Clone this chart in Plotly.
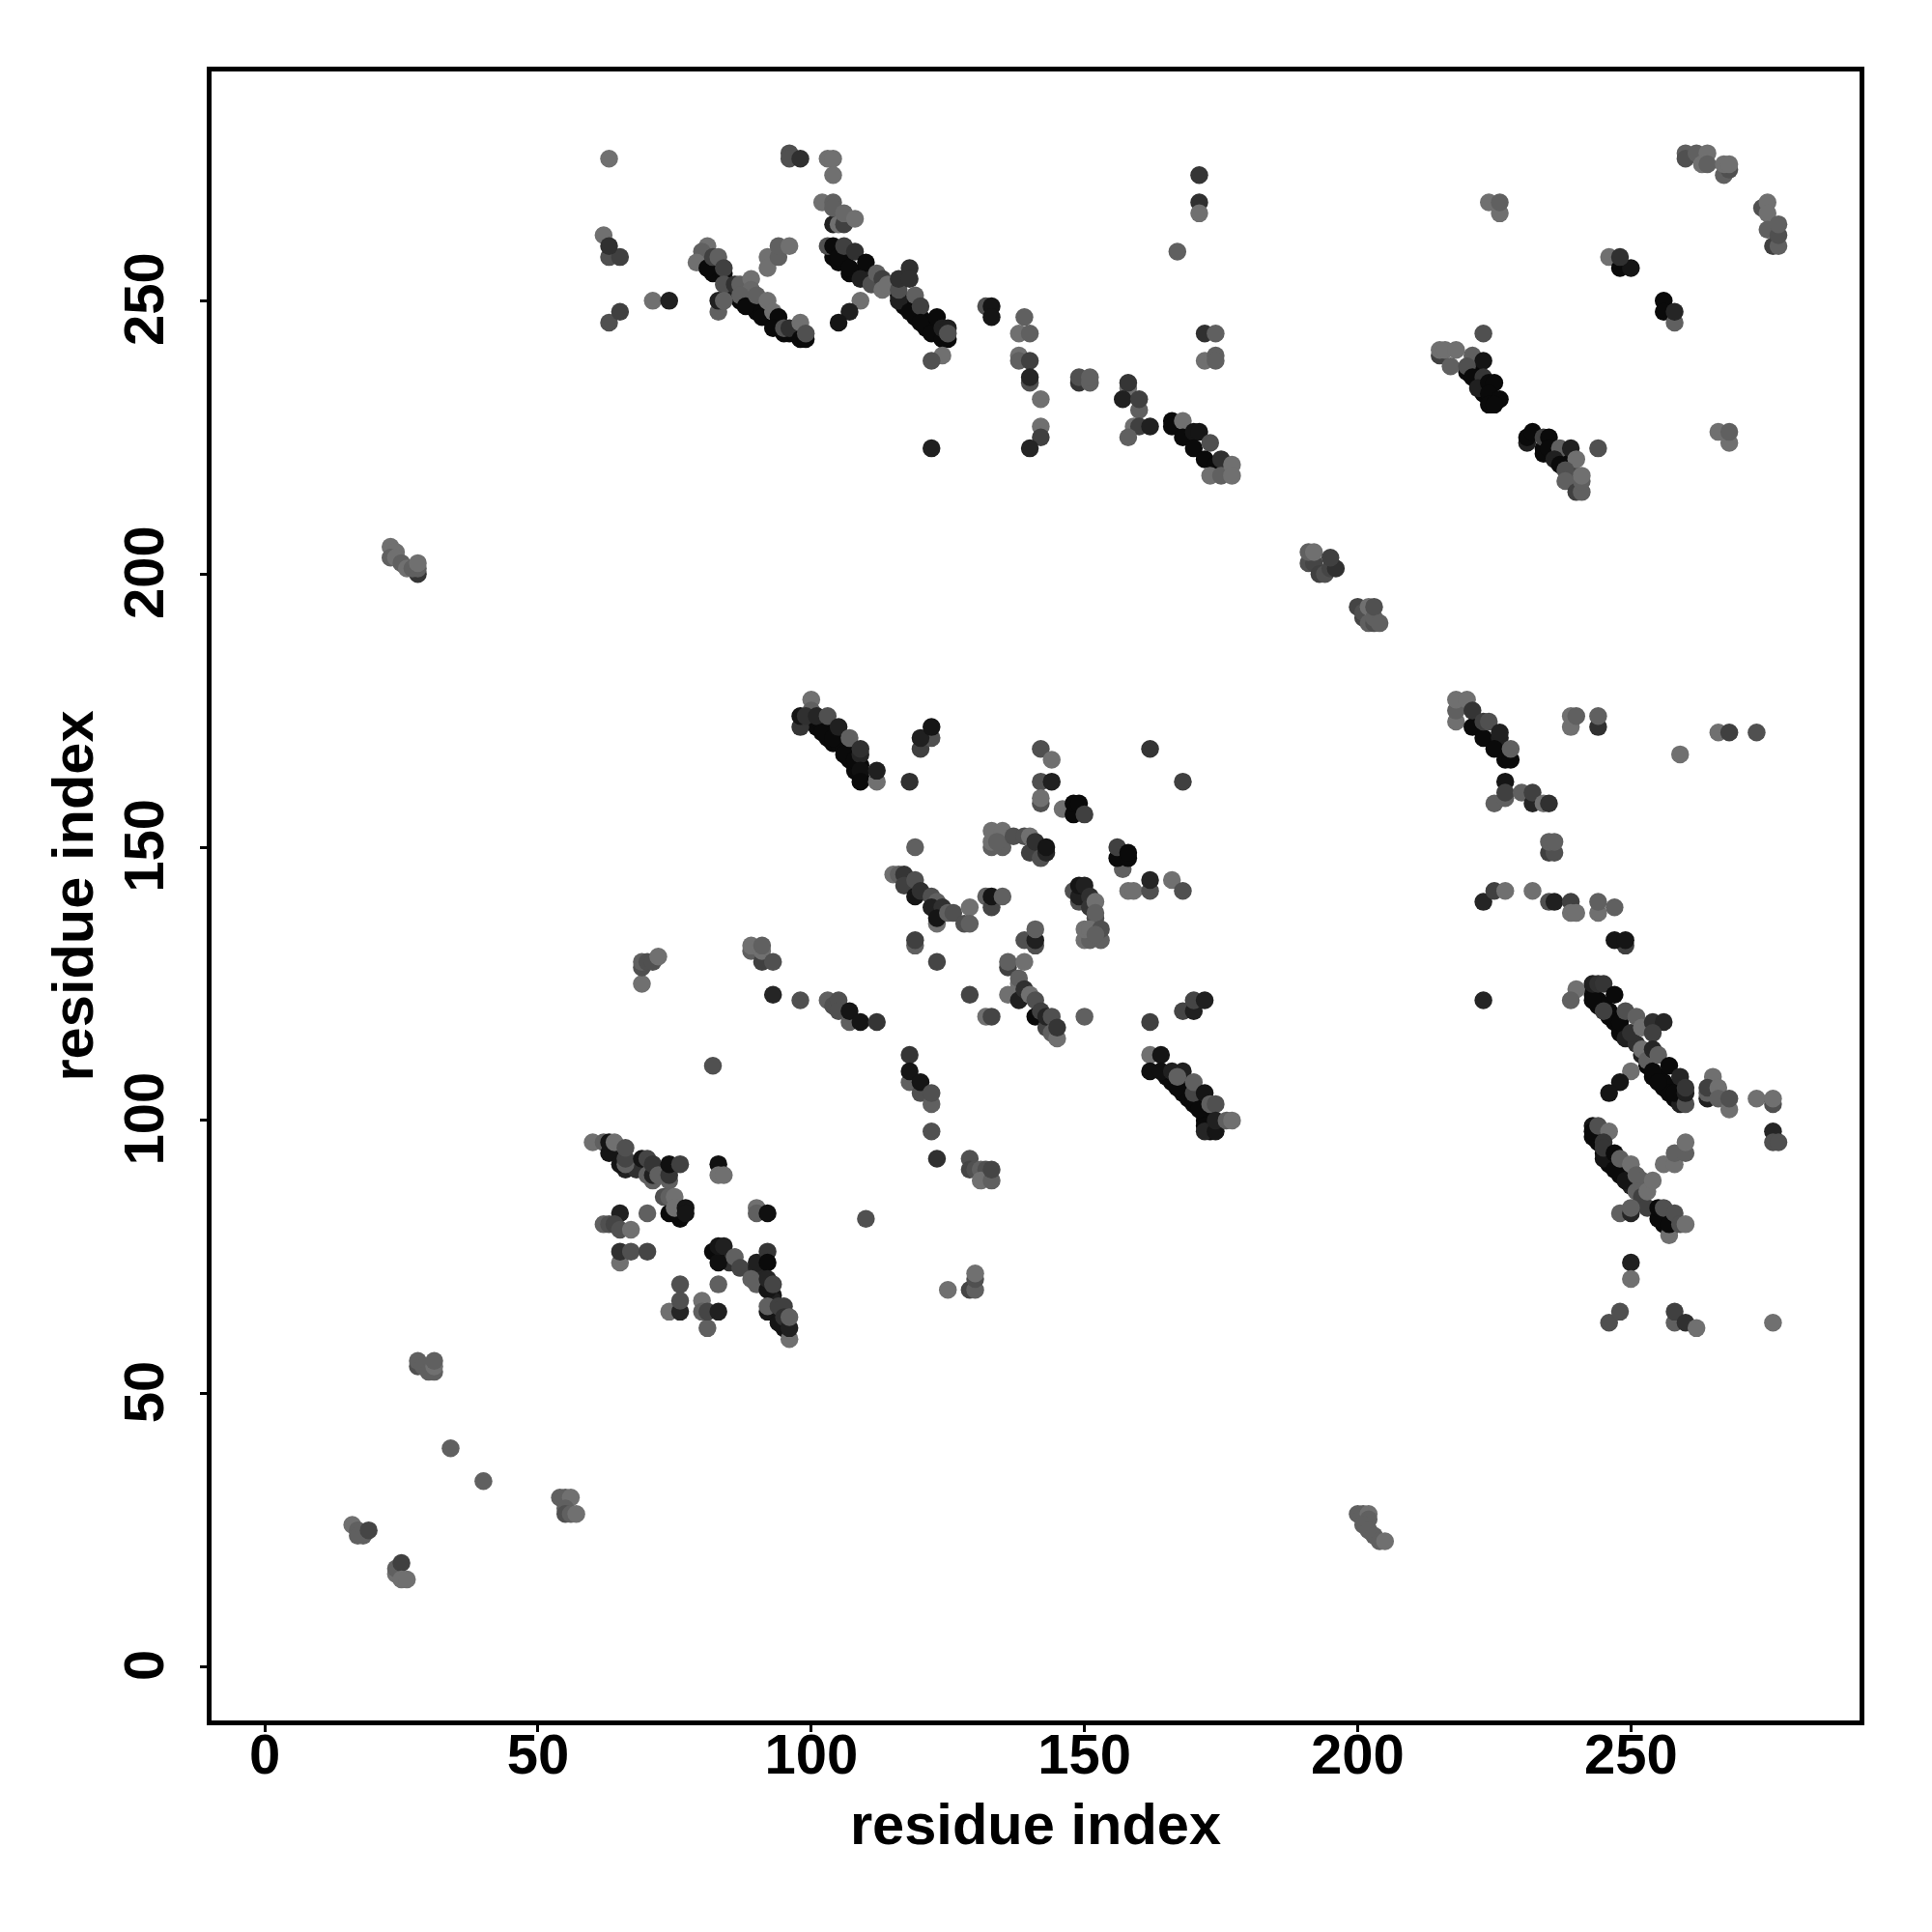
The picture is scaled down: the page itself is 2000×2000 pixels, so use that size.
import plotly.graph_objects as go

# every contact is (residue x, residue y, grey level of the marker)
dark_band_points = [
(80,257,0x0a),(81,256,0x0a),(82,256,0x0a),(83,255,0x0a),(84,254,0x0a),(85,253,0x20),(86,252,0x20),(87,250,0x0a),(88,250,0x0a),(89,249,0x0a),(90,248,0x0a),(91,248,0x0a),(92,247,0x0a),(93,246,0x0a),(94,246,0x0a),(95,244,0x0a),(96,244,0x0a),(97,244,0x0a),(98,244,0x0a),
(104,259,0x0a),(104,258,0x0a),(105,257,0x0a),(106,257,0x0a),(107,255,0x0a),(108,255,0x0a),(109,255,0x0a),(110,254,0x0a),(111,254,0x20),(112,253,0x30),(116,251,0x0a),(117,250,0x0a),(117,249,0x0a),(118,249,0x0a),(119,248,0x0a),(119,247,0x0a),(120,247,0x0a),(121,246,0x0a),(121,245,0x0a),(122,246,0x0a),(123,245,0x0a),(123,244,0x0a),(124,244,0x0a),
(220,237,0x0a),(221,237,0x0a),(222,236,0x0a),(222,235,0x0a),(223,234,0x0a),(223,233,0x0a),(224,232,0x0a),(225,232,0x0a),
(234,223,0x0a),(235,222,0x0a),(236,222,0x0a),(237,221,0x0a),(237,222,0x0a),(238,220,0x0a),(239,219,0x20),(239,218,0x20),(240,217,0x40),(240,218,0x40),
(243,123,0x0a),(243,124,0x0a),(244,122,0x0a),(244,121,0x0a),(245,121,0x0a),(246,120,0x0a),(246,119,0x0a),(247,119,0x0a),(247,118,0x0a),(248,117,0x0a),(248,116,0x0a),(249,116,0x0a),(249,115,0x20),(250,115,0x20),(251,114,0x30),(252,112,0x20),(253,110,0x0a),(254,108,0x0a),(255,108,0x0a),(256,106,0x0a),(256,107,0x0a),(257,106,0x0a),(257,105,0x0a),(258,104,0x0a),(259,104,0x0a),(259,103,0x20),
(243,97,0x0a),(244,96,0x0a),(245,94,0x0a),(246,92,0x0a),(247,92,0x0a),(248,90,0x0a),(248,91,0x0a),(249,90,0x0a),(250,88,0x20),(251,88,0x30),(255,83,0x0a),(256,82,0x0a),(256,81,0x0a),(257,80,0x0a),
(165,108,0x0a),(166,107,0x0a),(167,107,0x0a),(168,105,0x0a),(168,106,0x0a),(169,105,0x0a),(169,104,0x0a),(170,103,0x0a),(171,103,0x0a),(172,101,0x0a),(172,100,0x0a),(173,100,0x0a),(173,99,0x0a),(172,99,0x0a),(173,98,0x0a),
(99,173,0x0a),(100,173,0x0a),(101,172,0x0a),(102,172,0x0a),(103,170,0x0a),(104,169,0x0a),(105,169,0x0a),(106,168,0x0a),(107,166,0x0a),(108,165,0x0a),(109,165,0x0a),(109,163,0x0a),(108,164,0x0a),
(64,95,0x0a),(65,94,0x0a),(66,91,0x20),(67,92,0x20),(68,91,0x30),(75,83,0x0a),(76,83,0x0a),(84,75,0x0a),(85,74,0x30),(93,68,0x15),(93,67,0x20),(94,65,0x15),(95,63,0x15),(95,62,0x15),(94,64,0x15),
]
top_left_band = [
(63,276,0x70),(96,277,0x50),(96,276,0x50),(98,276,0x30),(103,276,0x70),(104,276,0x70),(104,273,0x70),
(102,268,0x70),(104,264,0x20),(105,264,0x70),(106,264,0x40),(104,268,0x60),(104,267,0x60),(106,266,0x68),(108,265,0x70),
(62,262,0x70),(63,258,0x50),(65,258,0x40),(63,260,0x30),(63,246,0x50),(65,248,0x40),(71,250,0x70),(74,250,0x20),
(92,258,0x70),(92,256,0x70),(94,258,0x60),(94,260,0x60),(96,260,0x70),
]
diagonal_a = [
(81,260,0x70),(80,259,0x60),(79,257,0x70),(82,255,0x0a),(81,256,0x0a),(82,258,0x40),(83,258,0x60),(84,255,0x0a),(84,256,0x40),(84,253,0x50),
(83,248,0x60),(83,250,0x20),(84,250,0x60),(86,253,0x30),(87,253,0x60),(89,254,0x70),(89,252,0x68),(87,251,0x60),(88,249,0x0a),(90,251,0x60),
(91,247,0x0a),(92,250,0x70),(93,248,0x70),(94,247,0x0a),(93,245,0x0a),(95,245,0x50),(96,245,0x30),(98,246,0x70),(98,243,0x0a),(99,243,0x0a),(99,244,0x50),
]
diagonal_b = [
(103,260,0x50),(104,260,0x0a),(105,258,0x0a),(106,260,0x40),(107,256,0x0a),(108,259,0x30),(110,257,0x0a),(109,254,0x20),(111,253,0x50),(112,255,0x60),
(113,254,0x40),(113,252,0x70),(114,253,0x70),(116,250,0x20),(116,252,0x50),(116,254,0x30),(118,256,0x30),(118,254,0x30),(119,251,0x60),(118,248,0x0a),
(120,249,0x40),(120,246,0x0a),(123,247,0x0a),(122,244,0x0a),(125,243,0x0a),(124,243,0x0a),(124,245,0x20),(125,245,0x20),(125,244,0x50),
(109,250,0x70),(107,248,0x20),(105,246,0x15),(124,240,0x70),(122,239,0x50),(132,249,0x50),(133,249,0x15),(133,247,0x15),
(139,247,0x60),(138,244,0x70),(140,244,0x60),(138,240,0x70),(138,239,0x60),(140,239,0x40),(140,235,0x50),(140,236,0x25),(142,232,0x70),
(142,227,0x70),(142,225,0x40),(140,223,0x25),(122,223,0x20),
]
upper_middle = [
(149,235,0x35),(149,236,0x50),(151,235,0x60),(151,236,0x60),(158,234,0x70),(158,235,0x35),(157,232,0x20),(160,230,0x60),(160,232,0x40),
(159,227,0x70),(160,227,0x40),(162,227,0x20),(158,225,0x60),(167,259,0x60),(171,273,0x35),(171,268,0x30),(171,266,0x70),
(166,228,0x0a),(166,227,0x0a),(168,228,0x70),(168,225,0x0a),(170,226,0x15),(171,226,0x15),(170,223,0x0a),(173,224,0x50),(172,221,0x0a),(174,220,0x0a),
(175,221,0x30),(173,218,0x70),(175,218,0x60),(177,220,0x70),(177,218,0x70),
(172,244,0x30),(174,244,0x60),(172,239,0x70),(174,240,0x60),(174,239,0x60),
]
upper_right = [
(224,268,0x70),(226,266,0x70),(226,268,0x60),(260,277,0x60),(260,276,0x50),(262,277,0x60),(264,277,0x70),(263,275,0x70),(264,275,0x60),
(267,273,0x60),(268,274,0x50),(267,275,0x70),(268,275,0x70),(274,267,0x50),(275,268,0x70),(275,266,0x70),(275,263,0x60),(276,260,0x40),(277,260,0x60),(277,262,0x50),(277,264,0x60),
(246,258,0x70),(248,256,0x0a),(250,256,0x15),(248,258,0x30),(256,250,0x0a),(256,248,0x0a),(258,246,0x60),(258,248,0x25),
(223,244,0x50),(215,240,0x40),(215,241,0x70),(216,241,0x70),(218,241,0x70),(217,238,0x60),(221,240,0x60),(223,239,0x15),(220,238,0x50),(221,236,0x0a),(223,236,0x35),
(222,234,0x20),(224,235,0x0a),(225,235,0x0a),(224,233,0x0a),(226,232,0x0a),(224,231,0x0a),(225,231,0x0a),
(231,224,0x20),(231,225,0x0a),(232,226,0x0a),(234,225,0x40),(235,225,0x0a),(234,222,0x0a),(235,223,0x0a),(237,223,0x60),(239,223,0x20),(244,223,0x50),
(236,221,0x20),(237,220,0x0a),(240,221,0x70),(238,219,0x50),(238,217,0x60),(240,215,0x40),(241,215,0x60),(241,217,0x60),(241,218,0x70),
(266,226,0x70),(268,224,0x70),(268,226,0x60),
]
right_top_middle = [
(218,173,0x70),(218,175,0x60),(218,177,0x70),(220,177,0x70),(221,172,0x0a),(221,175,0x35),(223,170,0x0a),(223,173,0x40),(224,173,0x50),(226,170,0x20),(226,171,0x20),
(225,168,0x0a),(227,166,0x0a),(228,166,0x0a),(228,168,0x60),(227,162,0x15),(225,158,0x60),(227,159,0x60),(227,160,0x40),(230,160,0x60),(232,158,0x25),(232,160,0x40),
(234,158,0x70),(235,158,0x30),(235,149,0x40),(236,149,0x50),(235,151,0x60),(236,151,0x60),
(223,140,0x25),(225,142,0x40),(227,142,0x70),(232,142,0x70),(235,140,0x50),(236,140,0x20),(239,140,0x40),(239,138,0x70),(240,138,0x70),
(244,138,0x70),(244,140,0x60),(247,139,0x60),(249,132,0x40),(247,133,0x15),(249,133,0x15),(239,172,0x70),(239,174,0x70),(240,174,0x60),(244,172,0x30),(244,174,0x60),
(259,167,0x70),(266,171,0x70),(268,171,0x40),(273,171,0x50),(223,122,0x25),
]
right_lower_band = [
(240,124,0x70),(239,122,0x60),(243,122,0x0a),(243,125,0x20),(244,125,0x30),(245,125,0x35),(247,123,0x0a),(245,120,0x40),(248,118,0x0a),(249,120,0x50),(250,116,0x30),(251,119,0x60),
(252,113,0x70),(252,117,0x70),(254,118,0x30),(256,118,0x25),(254,116,0x40),(253,111,0x60),(254,109,0x0a),(254,113,0x25),(255,112,0x60),(255,107,0x0a),(257,110,0x0a),(258,105,0x0a),
(259,108,0x25),(260,103,0x50),(260,105,0x20),(260,106,0x35),(250,109,0x70),(248,107,0x15),(246,105,0x15),
(265,108,0x70),(264,104,0x20),(264,105,0x60),(264,106,0x40),(266,106,0x70),(266,104,0x60),(268,102,0x70),(268,104,0x50),(273,104,0x70),(276,103,0x50),(276,104,0x70),(276,98,0x25),(276,96,0x50),(277,96,0x50),
(243,99,0x15),(243,98,0x0a),(244,99,0x50),(246,98,0x70),(245,96,0x35),(245,93,0x15),(245,95,0x35),(247,94,0x0a),(247,91,0x0a),(248,93,0x60),(249,89,0x15),(250,92,0x70),(251,90,0x60),
(252,89,0x60),(251,87,0x60),(252,86,0x40),(253,84,0x40),(253,87,0x70),(254,89,0x70),(248,83,0x60),(250,83,0x25),(250,84,0x60),(255,82,0x0a),(255,84,0x0a),(256,84,0x50),(257,79,0x70),(257,81,0x0a),(258,83,0x50),(259,81,0x50),(260,81,0x70),
(256,92,0x70),(258,92,0x70),(258,94,0x60),(260,94,0x60),(260,96,0x70),(250,74,0x20),(250,71,0x70),(246,63,0x50),(248,65,0x50),(258,63,0x60),(258,65,0x40),(260,63,0x30),(262,62,0x70),(276,63,0x70),
]
center_upper = [
(100,177,0x70),(98,172,0x35),(98,174,0x15),(100,175,0x60),(99,174,0x30),(101,174,0x25),(102,171,0x0a),(103,174,0x50),(104,170,0x0a),(105,172,0x20),(106,167,0x0a),(107,170,0x60),(108,166,0x0a),(109,167,0x25),(109,168,0x30),(109,164,0x10),(109,162,0x0a),(112,162,0x70),(112,164,0x20),
(120,168,0x40),(122,170,0x50),(120,170,0x20),(122,172,0x15),(118,162,0x30),(142,168,0x50),(144,166,0x70),(142,162,0x50),(144,162,0x20),(142,158,0x50),(142,159,0x70),(146,157,0x70),(148,156,0x0a),(148,158,0x0a),(149,158,0x0a),(150,156,0x40),
(162,168,0x35),(168,162,0x40),(133,150,0x60),(133,151,0x70),(133,153,0x70),(135,150,0x60),(135,153,0x70),(134,151,0x60),(137,152,0x50),(139,152,0x50),(140,152,0x70),(140,149,0x40),(141,151,0x30),(142,148,0x50),(143,149,0x25),(143,150,0x15),
(157,146,0x60),(156,148,0x0a),(156,150,0x40),(158,148,0x0a),(158,149,0x0a),(158,142,0x70),(159,142,0x70),(162,142,0x50),(162,144,0x25),(166,144,0x70),(168,142,0x50),
(119,150,0x60),(115,145,0x70),(116,145,0x60),(117,145,0x35),(117,143,0x40),(119,141,0x15),(119,144,0x50),(120,142,0x30),(122,141,0x50),(123,140,0x60),(122,139,0x20),(124,139,0x30),(123,136,0x70),(123,137,0x15),(125,138,0x60),(126,138,0x50),
(129,139,0x70),(128,136,0x50),(129,136,0x60),(119,132,0x60),(119,133,0x40),(123,129,0x45),(132,141,0x60),(133,139,0x45),(133,141,0x15),(135,141,0x60),(141,132,0x50),(139,133,0x50),(141,133,0x20),(141,135,0x60),
(136,128,0x40),(136,129,0x60),(139,129,0x70),(149,140,0x50),(148,142,0x50),(149,141,0x20),(149,143,0x15),(150,143,0x20),(151,141,0x30),(151,139,0x35),(152,140,0x70),(152,137,0x50),(152,138,0x60),
(150,133,0x70),(151,133,0x60),(153,133,0x60),(150,135,0x70),(151,135,0x70),(153,135,0x50),(152,134,0x60),
]
center_lower = [
(93,123,0x25),(98,122,0x50),(103,122,0x60),(104,121,0x50),(105,122,0x50),(105,120,0x50),(107,118,0x60),(107,120,0x15),(109,118,0x15),(112,118,0x35),
(118,112,0x35),(118,107,0x60),(118,109,0x15),(120,105,0x50),(120,107,0x15),(122,103,0x60),(122,105,0x50),(122,98,0x50),(123,93,0x30),
(129,123,0x45),(132,119,0x70),(133,119,0x45),(138,125,0x70),(138,126,0x60),(136,123,0x70),(138,122,0x20),(139,124,0x30),(140,123,0x70),(141,119,0x0a),(141,122,0x50),(142,120,0x40),(143,117,0x45),(143,119,0x25),(144,116,0x60),(145,115,0x70),(144,119,0x50),(145,117,0x35),
(150,119,0x60),(162,118,0x40),(168,120,0x45),(170,120,0x20),(170,122,0x45),(172,122,0x20),(162,112,0x70),(164,112,0x15),(162,109,0x10),(164,109,0x10),(166,109,0x20),(167,106,0x0a),(168,109,0x20),(167,108,0x60),
(170,104,0x0a),(170,105,0x45),(170,107,0x60),(171,102,0x0a),(172,105,0x15),(173,103,0x60),(174,103,0x50),(172,98,0x25),(174,98,0x15),(174,100,0x20),(176,100,0x60),(177,100,0x70),
(125,69,0x70),(129,69,0x45),(130,69,0x60),(130,71,0x50),(130,72,0x70),(129,93,0x50),(129,91,0x45),(130,91,0x50),(131,91,0x60),(132,91,0x50),(131,89,0x70),(133,89,0x60),(133,91,0x45),
(69,125,0x70),(69,128,0x50),(69,129,0x60),(70,129,0x50),(71,129,0x50),(72,130,0x70),(89,131,0x60),(89,132,0x70),(91,129,0x40),(91,131,0x70),(91,132,0x60),(93,129,0x50),(82,110,0x50),(110,82,0x50),
]
lower_left_block = [
(60,96,0x70),(62,96,0x60),(63,94,0x15),(63,96,0x15),(64,96,0x70),(65,92,0x15),(66,92,0x60),(66,93,0x45),(66,95,0x50),(69,93,0x15),(70,90,0x60),(70,93,0x45),(71,89,0x60),(71,90,0x20),(71,92,0x35),(72,90,0x60),
(74,89,0x60),(74,90,0x35),(74,92,0x10),(76,92,0x40),(73,86,0x50),(74,86,0x60),(75,86,0x70),(74,83,0x0a),(76,82,0x0a),(75,84,0x70),(77,84,0x15),(77,83,0x15),
(65,83,0x20),(70,83,0x60),(62,81,0x60),(63,81,0x50),(64,81,0x45),(65,80,0x50),(67,80,0x70),(65,74,0x70),(65,76,0x30),(67,76,0x50),(70,76,0x45),
(76,70,0x50),(74,65,0x70),(76,65,0x25),(76,67,0x50),(80,67,0x70),(81,62,0x60),(80,65,0x60),(81,65,0x45),(83,65,0x20),(83,70,0x60),(83,92,0x10),(83,90,0x70),(84,90,0x70),(90,84,0x70),(90,83,0x60),(92,83,0x10),
(82,76,0x0a),(83,74,0x10),(83,77,0x15),(84,77,0x20),(86,75,0x60),(87,73,0x45),(90,73,0x25),(90,74,0x20),(92,76,0x35),(92,74,0x0a),(89,71,0x60),(90,70,0x60),(92,69,0x15),(92,71,0x25),(93,70,0x45),
(92,65,0x15),(92,66,0x60),(94,63,0x15),(94,66,0x40),(95,66,0x40),(95,64,0x30),(96,60,0x70),(96,62,0x20),(96,64,0x60),
]
small_groups = [
(23,205,0x70),(24,204,0x70),(23,203,0x60),(24,203,0x70),(25,202,0x60),(26,201,0x70),(28,200,0x35),(27,201,0x60),(28,201,0x60),(28,202,0x70),
(191,202,0x50),(192,202,0x45),(191,204,0x60),(192,204,0x70),(193,200,0x40),(194,200,0x50),(195,201,0x45),(196,201,0x30),(195,203,0x40),
(200,194,0x45),(201,192,0x45),(201,193,0x50),(202,191,0x60),(202,194,0x70),(203,191,0x50),(203,192,0x60),(203,194,0x50),(204,191,0x60),
(28,55,0x50),(28,56,0x60),(29,55,0x60),(30,54,0x60),(31,54,0x60),(31,55,0x70),(31,56,0x60),(34,40,0x60),(40,34,0x60),
(54,31,0x60),(55,31,0x60),(56,31,0x70),(55,29,0x60),(55,28,0x50),(56,28,0x60),(57,28,0x70),
(16,26,0x70),(17,25,0x60),(17,24,0x60),(18,24,0x60),(19,25,0x45),(24,17,0x70),(24,18,0x60),(25,19,0x40),(25,16,0x70),(26,16,0x70),
(200,28,0x60),(201,28,0x60),(202,28,0x70),(202,27,0x60),(201,26,0x60),(202,25,0x60),(203,24,0x60),(204,23,0x60),(205,23,0x70),
]

x_ticks = [0, 50, 100, 150, 200, 250]
y_ticks = [0, 50, 100, 150, 200, 250]
x_title = "residue index"
y_title = "residue index"

groups = [dark_band_points, top_left_band, diagonal_a, diagonal_b, upper_middle, upper_right, right_top_middle,
          right_lower_band, center_upper, center_lower, lower_left_block, small_groups]
points = [p for g in groups for p in g]
xs = [p[0] for p in points]
ys = [p[1] for p in points]
colors = [f"rgb({p[2]},{p[2]},{p[2]})" for p in points]

fig = go.Figure(go.Scatter(x=xs, y=ys, mode="markers", cliponaxis=False,
                           marker=dict(size=18.5, color=colors, line=dict(width=0))))
TICK_FONT = dict(family="Liberation Sans", size=58, color="black", weight="bold")
TITLE_FONT = dict(family="Liberation Sans", size=59.6, color="black", weight="bold")
axis = dict(showgrid=False, zeroline=False, showline=True, mirror=True, linecolor="black", linewidth=5,
            ticks="outside", ticklen=7, tickwidth=3, tickcolor="black", tickfont=TICK_FONT)
fig.update_layout(
    width=2000, height=2000, plot_bgcolor="white", paper_bgcolor="white", showlegend=False,
    margin=dict(l=218.5, r=74.5, t=73.5, b=218.5, autoexpand=False),
    xaxis=dict(axis, range=[-9.75, 291.84], tickvals=x_ticks, ticklabelstandoff=-27,
               title=dict(text=x_title, font=TITLE_FONT, standoff=22)),
    yaxis=dict(axis, range=[-9.8, 291.96], tickvals=y_ticks, tickangle=-90, ticklabelstandoff=15, ticklabelshift=7,
               title=dict(text=y_title, font=TITLE_FONT, standoff=1)),
)
fig.write_html("out.html", config=dict(displayModeBar=False), post_script="document.body.style.margin='0';")
